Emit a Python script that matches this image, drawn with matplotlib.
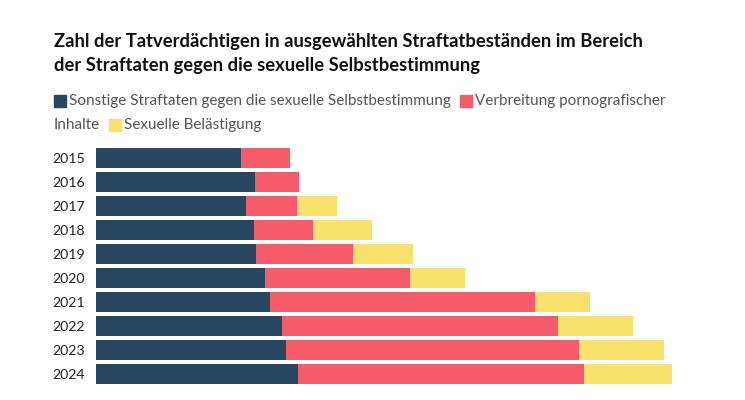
import matplotlib
matplotlib.use("Agg")
import matplotlib.pyplot as plt
from matplotlib.patches import Rectangle

years = ["2015", "2016", "2017", "2018", "2019", "2020", "2021", "2022", "2023", "2024"]
sonstige = [29000, 31800, 30000, 31600, 32000, 33800, 34800, 37200, 38000, 40400]
porno = [9800, 8800, 10200, 11800, 19400, 29000, 53000, 55200, 58600, 57200]
belaestigung = [0, 0, 8000, 11800, 12000, 11000, 11000, 15000, 17000, 17600]

series_names = ["Sonstige Straftaten gegen die sexuelle Selbstbestimmung",
                "Verbreitung pornografischer", "Inhalte", "Sexuelle Belästigung"]
colors = ["#27465f", "#f55b69", "#f8e26d"]

plt.rcParams['font.family'] = ['Lato', 'DejaVu Sans']

W, H = 745, 400
fig = plt.figure(figsize=(W / 100, H / 100), dpi=100)

# bars
ax = fig.add_axes([96 / W, 1 - 386 / H, 604 / W, 240 / H])
y = list(range(len(years)))
left2 = [a + b for a, b in zip(sonstige, porno)]
ax.barh(y, sonstige, height=0.83, color=colors[0])
ax.barh(y, porno, left=sonstige, height=0.83, color=colors[1])
ax.barh(y, belaestigung, left=left2, height=0.83, color=colors[2])
ax.set_ylim(len(years) - 0.5, -0.5)
ax.set_xlim(0, 604 * 200)
ax.set_yticks(y)
ax.set_yticklabels(years, fontsize=10.2, color="#222222")
ax.tick_params(axis="y", length=0, pad=8)
ax.set_xticks([])
for s in ax.spines.values():
    s.set_visible(False)

# title
fig.text(54 / W, 1 - 42 / H, "Zahl der Tatverdächtigen in ausgewählten Straftatbeständen im Bereich",
         fontsize=13.25, fontweight="bold", color="#111111", va="center")
fig.text(54 / W, 1 - 66 / H, "der Straftaten gegen die sexuelle Selbstbestimmung",
         fontsize=13.25, fontweight="bold", color="#111111", va="center")

# legend, built by hand so it wraps like the original
renderer = fig.canvas.get_renderer()
sq = 12


def legend_item(x, ypix, color, label):
    if color is not None:
        fig.patches.append(Rectangle((x / W, 1 - (ypix + sq / 2) / H), sq / W, sq / H,
                                     transform=fig.transFigure, color=color))
        x += sq + 3
    t = fig.text(x / W, 1 - ypix / H, label, fontsize=11, color="#555555", va="center")
    bb = t.get_window_extent(renderer)
    return x + bb.width + 9


x = legend_item(54, 101, colors[0], series_names[0])
legend_item(x, 101, colors[1], series_names[1])
x = legend_item(54, 125, None, series_names[2])
legend_item(x, 125, colors[2], series_names[3])

fig.savefig("out.png", dpi=100)
